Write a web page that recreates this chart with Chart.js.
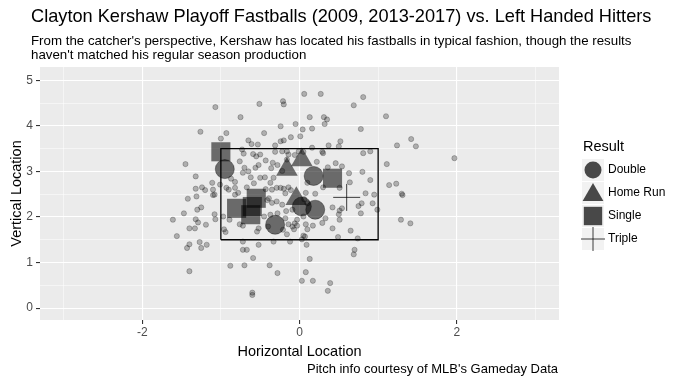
<!DOCTYPE html>
<html>
<head>
<meta charset="utf-8">
<script src="https://cdn.jsdelivr.net/npm/chart.js@4/dist/chart.umd.min.js"></script>
<style>
  html, body { margin: 0; padding: 0; background: #fff; }
  #wrap { width: 683px; height: 384px; }
</style>
</head>
<body>
<div id="wrap"><canvas id="myChart" width="683" height="384"></canvas></div>
<script>
// other pitches (small grey dots), horizontal / vertical location
var pitchX = [-1.07,-0.51,-0.21,-0.2,-0.75,-1.26,-0.93,-1.0,-0.45,-0.24,-0.05,0.04,-0.65,-0.61,-0.53,-0.31,-0.24,-0.2,-0.11,0.01,
  -0.73,-0.71,-0.59,-0.55,-0.5,-0.43,-0.31,-0.22,-0.16,-0.14,-0.01,-0.76,-0.7,-0.65,-0.56,-0.62,-0.5,-0.44,-0.37,-0.34,
  -0.28,-0.16,-0.33,-0.29,-0.35,-0.24,-0.2,-0.14,-1.45,-1.32,-1.32,-1.24,-1.2,-1.11,-1.1,-1.01,-1.08,-0.93,-0.87,-0.82,
  -0.9,-0.82,-0.78,-0.82,
  0.06,0.27,0.81,0.69,1.1,0.13,0.31,0.35,0.32,0.16,0.78,0.52,0.5,0.37,0.16,0.29,0.3,0.81,0.9,1.24,
  1.42,1.48,1.97,1.11,0.22,0.46,0.54,0.36,0.63,0.8,0.9,0.64,0.51,1.14,1.23,1.3,0.84,0.95,0.2,0.08,
  0.3,0.1,
  -1.42,-1.31,-1.47,-1.3,-1.25,-1.61,-1.32,-1.29,-1.4,-1.33,-1.19,-1.08,-1.07,-0.97,-1.56,-1.43,-1.4,-1.27,-1.25,-1.18,
  -1.4,-0.94,-0.76,-0.72,-0.72,-0.72,-0.67,-0.59,-0.52,-0.88,-0.7,-0.38,-0.28,-0.6,-0.6,0.03,-0.54,-0.33,-0.12,-0.16,
  0.07,-0.4,-0.14,-0.09,-0.03,-0.06,-0.03,-0.28,-0.18,-0.09,-0.45,-0.35,-0.22,-0.39,-1.1,
  0.99,0.93,0.79,0.78,0.75,0.54,0.51,0.5,0.51,0.42,0.42,0.65,0.49,0.74,1.29,1.41,1.31,0.08,0.17,0.1,
  0.05,0.03,0.09,0.13,0.08,0.17,0.39,0.36,0.7,0.69,0.05,
  0.1,0.33,0.29,-0.21,-0.07,-0.52,-0.89,-0.96,-0.72,-0.52,-0.36,-0.22,-0.43,-0.58,-0.67,-0.41,-0.29,-0.17,-0.37,-0.18,
  -0.11,0.05,-0.06,0.06];
var pitchY = [4.41,4.48,4.54,4.47,4.19,3.87,3.84,3.72,3.84,3.99,4.04,3.92,3.68,3.6,3.59,3.57,3.66,3.68,3.75,3.77,
  3.48,3.39,3.38,3.33,3.37,3.24,3.43,3.44,3.44,3.37,3.44,3.22,3.08,3.0,3.08,2.87,2.86,2.87,2.75,3.19,
  3.14,3.26,2.86,2.64,2.6,2.64,2.62,2.65,3.16,2.89,2.62,2.65,2.59,2.75,2.6,2.71,2.49,2.64,2.84,2.77,
  2.6,2.64,2.53,2.49,
  4.7,4.7,4.63,4.45,4.21,4.19,4.19,4.14,4.04,3.94,3.93,3.66,3.55,3.57,3.52,3.43,3.4,3.4,3.44,3.57,
  3.71,3.55,3.29,3.16,3.21,3.18,3.11,3.09,2.96,2.99,2.81,2.76,2.64,2.7,2.73,2.51,2.52,2.49,2.51,2.53,
  2.65,2.75,
  2.4,2.45,2.08,2.16,2.21,1.94,1.95,1.88,1.75,1.75,1.83,2.06,1.95,2.01,1.58,1.32,1.4,1.45,1.32,1.39,
  0.81,1.67,1.84,1.81,1.46,1.28,1.28,1.1,1.39,0.93,0.94,0.94,0.77,0.34,0.29,0.6,1.68,1.46,1.46,1.62,
  1.57,1.79,1.84,1.79,1.81,1.86,1.94,2.08,1.97,2.16,2.01,2.31,2.27,2.41,2.48,
  2.16,2.3,2.3,2.08,2.24,2.19,2.14,2.06,1.94,2.21,1.75,1.7,1.56,1.53,1.94,1.86,2.48,1.84,1.81,1.73,
  1.59,1.51,1.39,1.08,0.79,0.6,0.55,0.38,1.28,1.18,2.01,
  2.3,1.97,1.87,1.72,1.73,1.75,1.94,1.73,2.97,3.14,3.07,3.01,2.61,2.74,2.65,2.37,2.34,2.13,2.05,2.52,
  2.59,3.43,3.36,2.39];

// balls in play that went for hits
var doubleX = [-0.95, 0.18, 0.03, 0.2, -0.31];
var doubleY = [3.05, 2.9, 2.23, 2.16, 1.83];
var homeRunX = [-0.16, 0.03, -0.04];
var homeRunY = [3.04, 3.25, 2.4];
var singleX = [-1.0, 0.42, -0.55, -0.8, -0.6, -0.62];
var singleY = [3.43, 2.85, 2.41, 2.19, 2.23, 2.05];
var tripleX = [0.6];
var tripleY = [2.43];

// strike zone outline
var zoneX = [-1, 1, 1, -1, -1];
var zoneY = [1.5, 1.5, 3.5, 3.5, 1.5];

var xTicks = [-2, 0, 2];
var yTicks = [0, 1, 2, 3, 4, 5];

function pts(xs, ys) {
  return xs.map(function(x, i) { return { x: x, y: ys[i] }; });
}

var FONT = '"Liberation Sans", Arial, sans-serif';
var markColor = 'rgba(0,0,0,0.55)';

var bgPlugin = {
  id: 'bg',
  beforeDraw: function(chart) {
    var c = chart.ctx, a = chart.chartArea;
    c.save();
    c.fillStyle = '#ffffff';
    c.fillRect(0, 0, chart.width, chart.height);
    c.fillStyle = '#EBEBEB';
    c.fillRect(a.left, a.top, a.right - a.left, a.bottom - a.top);
    c.restore();
  }
};

var textPlugin = {
  id: 'texts',
  afterDraw: function(chart) {
    var c = chart.ctx, a = chart.chartArea;
    c.save();
    c.fillStyle = '#000';
    c.textBaseline = 'middle';
    c.textAlign = 'left';
    c.font = '18.2px ' + FONT;
    c.fillText('Clayton Kershaw Playoff Fastballs (2009, 2013-2017) vs. Left Handed Hitters', 31, 17);
    c.font = '13.3px ' + FONT;
    c.fillText("From the catcher's perspective, Kershaw has located his fastballs in typical fashion, though the results", 31, 41);
    c.fillText("haven't matched his regular season production", 31, 55);

    c.font = '14.5px ' + FONT;
    c.textAlign = 'center';
    c.fillText('Horizontal Location', (a.left + a.right) / 2, 352);
    c.save();
    c.translate(17, (a.top + a.bottom) / 2);
    c.rotate(-Math.PI / 2);
    c.fillText('Vertical Location', 0, 0);
    c.restore();

    c.font = '13px ' + FONT;
    c.textAlign = 'right';
    c.fillText("Pitch info courtesy of MLB's Gameday Data", a.right - 1, 369);

    // legend
    c.textAlign = 'left';
    c.font = '14.5px ' + FONT;
    c.fillText('Result', 583, 147);
    var items = [
      { label: 'Double', style: 'circle', r: 8.5 },
      { label: 'Home Run', style: 'triangle', r: 12 },
      { label: 'Single', style: 'rect', r: 13 },
      { label: 'Triple', style: 'cross', r: 12 }
    ];
    c.font = '12px ' + FONT;
    items.forEach(function(it, i) {
      var cy = 170 + i * 23;
      c.fillStyle = '#F2F2F2';
      c.fillRect(582, cy - 11, 22, 22);
      c.fillStyle = 'rgba(0,0,0,0.7)';
      c.strokeStyle = 'rgba(0,0,0,0.75)';
      c.lineWidth = 1;
      // drawPoint fills (and strokes when borderWidth > 0) by itself
      Chart.helpers.drawPoint(c, { pointStyle: it.style, radius: it.r, rotation: 0, borderWidth: it.style === 'cross' ? 1 : 0 }, 593, it.style === 'triangle' ? cy + 2 : cy);
      c.fillStyle = '#000';
      c.fillText(it.label, 608, cy);
    });
    c.restore();
  }
};

var ctx = document.getElementById('myChart').getContext('2d');
var chart = new Chart(ctx, {
  type: 'scatter',
  data: {
    datasets: [
      {
        label: 'Pitches',
        data: pts(pitchX, pitchY),
        pointRadius: 2.6,
        backgroundColor: 'rgba(0,0,0,0.26)',
        borderColor: 'rgba(0,0,0,0.38)',
        borderWidth: 0.6
      },
      {
        label: 'Zone',
        data: pts(zoneX, zoneY),
        showLine: true,
        pointRadius: 0,
        borderColor: '#000',
        borderWidth: 1.3,
        fill: false
      },
      {
        label: 'Double',
        data: pts(doubleX, doubleY),
        pointStyle: 'circle',
        pointRadius: 9.5,
        backgroundColor: markColor,
        borderColor: 'rgba(0,0,0,0.35)',
        borderWidth: 1
      },
      {
        label: 'Home Run',
        data: pts(homeRunX, homeRunY),
        pointStyle: 'triangle',
        pointRadius: 12.5,
        backgroundColor: markColor,
        borderWidth: 0
      },
      {
        label: 'Single',
        data: pts(singleX, singleY),
        pointStyle: 'rect',
        pointRadius: 13.5,
        backgroundColor: markColor,
        borderWidth: 0
      },
      {
        label: 'Triple',
        data: pts(tripleX, tripleY),
        pointStyle: 'cross',
        pointRadius: 13.5,
        borderColor: 'rgba(0,0,0,0.75)',
        borderWidth: 1
      }
    ]
  },
  options: {
    responsive: false,
    animation: false,
    layout: { padding: { left: 0, top: 67, right: 124, bottom: 0 } },
    plugins: {
      legend: { display: false },
      tooltip: { enabled: false }
    },
    scales: {
      x: {
        type: 'linear',
        min: -3.3,
        max: 3.3,
        afterFit: function(s) { s.height = 64; },
        border: { display: false },
        grid: {
          color: '#ffffff',
          lineWidth: function(c) { return c.tick && c.tick.value % 2 === 0 ? 1.1 : 0.5; },
          tickLength: 4,
          tickColor: function(c) { return c.tick && xTicks.indexOf(c.tick.value) >= 0 ? '#333333' : 'rgba(0,0,0,0)'; }
        },
        ticks: {
          stepSize: 1,
          includeBounds: false,
          autoSkip: false,
          maxRotation: 0,
          padding: 1,
          color: '#4D4D4D',
          font: { family: FONT, size: 12 },
          callback: function(v) { return xTicks.indexOf(v) >= 0 ? String(v) : ''; }
        }
      },
      y: {
        type: 'linear',
        min: -0.26,
        max: 5.29,
        afterFit: function(s) { s.width = 40; },
        border: { display: false },
        grid: {
          color: '#ffffff',
          lineWidth: function(c) { return c.tick && c.tick.value % 1 === 0 ? 1.1 : 0.5; },
          tickLength: 4,
          tickColor: function(c) { return c.tick && yTicks.indexOf(c.tick.value) >= 0 ? '#333333' : 'rgba(0,0,0,0)'; }
        },
        ticks: {
          stepSize: 0.5,
          includeBounds: false,
          autoSkip: false,
          padding: 3,
          color: '#4D4D4D',
          font: { family: FONT, size: 12 },
          callback: function(v) { return yTicks.indexOf(v) >= 0 ? String(v) : ''; }
        }
      }
    }
  },
  plugins: [bgPlugin, textPlugin]
});
</script>
</body>
</html>
